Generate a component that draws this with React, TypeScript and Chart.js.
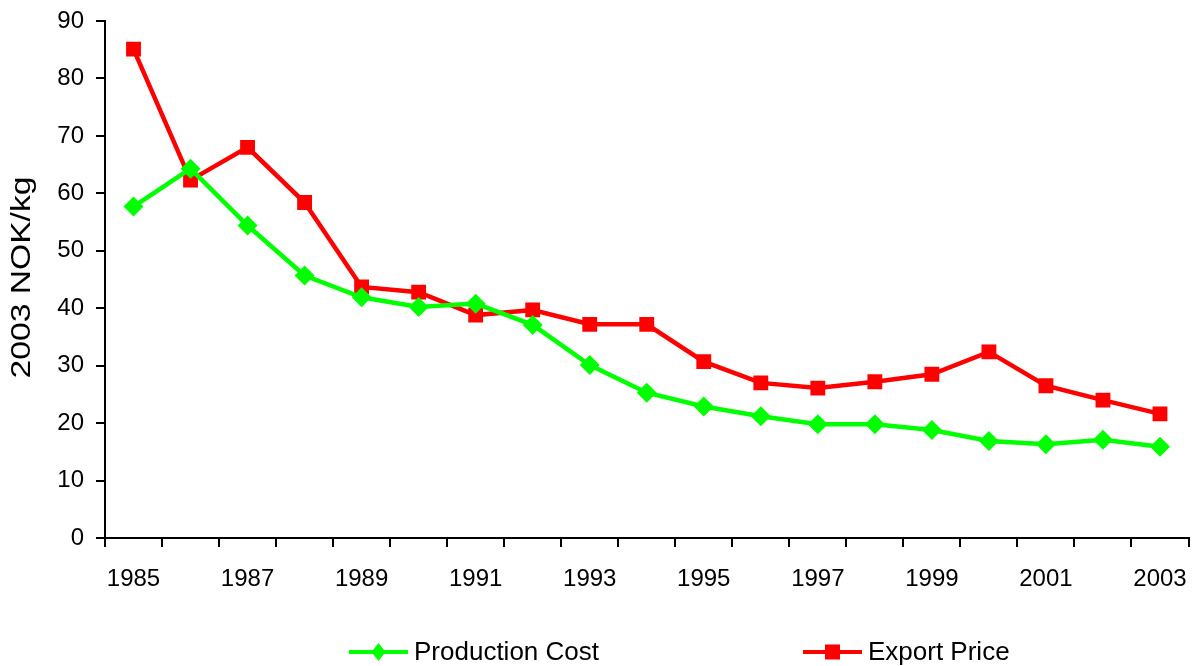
import React, { useEffect, useRef } from "react";
import { Chart, registerables } from "chart.js";

Chart.register(...registerables);

const years = [
  "1985", "1986", "1987", "1988", "1989", "1990", "1991", "1992", "1993", "1994",
  "1995", "1996", "1997", "1998", "1999", "2000", "2001", "2002", "2003",
];

const productionCost = [
  57.7, 64.3, 54.4, 45.7, 41.9, 40.2, 40.8, 37.1, 30.1, 25.3,
  22.9, 21.2, 19.8, 19.8, 18.8, 16.9, 16.3, 17.1, 15.9,
];

const exportPrice = [
  85.1, 62.3, 68.0, 58.4, 43.7, 42.8, 38.8, 39.7, 37.2, 37.2,
  30.7, 27.0, 26.1, 27.2, 28.5, 32.4, 26.5, 24.0, 21.6,
];

const yTicks = [0, 10, 20, 30, 40, 50, 60, 70, 80, 90];

const yTitle = "2003 NOK/kg";
const seriesNames = ["Production Cost", "Export Price"];

const FONT = "'Liberation Sans', Arial, Helvetica, sans-serif";
const GREEN = "#00ff00";
const RED = "#ff0000";

// Rotated axis title, drawn by hand so it can be stretched along its length
const yTitlePlugin = {
  id: "yTitleStretched",
  afterDraw(chart: any) {
    const { ctx, chartArea } = chart;
    ctx.save();
    ctx.font = `28px ${FONT}`;
    ctx.fillStyle = "#000";
    ctx.textAlign = "center";
    ctx.textBaseline = "middle";
    const w = ctx.measureText(yTitle).width;
    ctx.translate(22, (chartArea.top + chartArea.bottom) / 2 - 2);
    ctx.rotate(-Math.PI / 2);
    ctx.scale(202 / w, 1);
    ctx.fillText(yTitle, 0, 0);
    ctx.restore();
  },
};

// Legend below the axis: line sample with marker, then the series name
const legendPlugin = {
  id: "lineMarkerLegend",
  afterDraw(chart: any) {
    const { ctx } = chart;
    const y = 652;
    const items = [
      { name: seriesNames[0], color: GREEN, x: 349, marker: "diamond" },
      { name: seriesNames[1], color: RED, x: 803, marker: "square" },
    ];
    ctx.save();
    for (const it of items) {
      ctx.strokeStyle = it.color;
      ctx.lineWidth = 4;
      ctx.beginPath();
      ctx.moveTo(it.x, y);
      ctx.lineTo(it.x + 59, y);
      ctx.stroke();
      ctx.fillStyle = it.color;
      const cx = it.x + 29.5;
      ctx.beginPath();
      if (it.marker === "diamond") {
        ctx.moveTo(cx, y - 9);
        ctx.lineTo(cx + 7, y);
        ctx.lineTo(cx, y + 9);
        ctx.lineTo(cx - 7, y);
        ctx.closePath();
      } else {
        ctx.rect(cx - 7.5, y - 7.5, 15, 15);
      }
      ctx.fill();
      ctx.fillStyle = "#000";
      ctx.font = `26px ${FONT}`;
      ctx.textAlign = "left";
      ctx.textBaseline = "middle";
      ctx.fillText(it.name, it.x + 65, y + 1);
    }
    ctx.restore();
  },
};

export default function App() {
  const canvasRef = useRef<HTMLCanvasElement | null>(null);

  useEffect(() => {
    document.body.style.margin = "0";
    const canvas = canvasRef.current;
    if (!canvas) return;
    const chart = new Chart(canvas, {
      type: "line",
      data: {
        labels: years,
        datasets: [
          {
            label: seriesNames[0],
            data: productionCost,
            borderColor: GREEN,
            backgroundColor: GREEN,
            borderWidth: 4.5,
            pointStyle: "rectRot",
            pointRadius: 10,
            pointBorderWidth: 0,
            tension: 0,
          },
          {
            label: seriesNames[1],
            data: exportPrice,
            borderColor: RED,
            backgroundColor: RED,
            borderWidth: 4.5,
            pointStyle: "rect",
            pointRadius: 10.5,
            pointBorderWidth: 0,
            tension: 0,
          },
        ],
      },
      options: {
        responsive: false,
        animation: false,
        events: [],
        layout: { padding: { top: 21, right: 7, left: 0, bottom: 0 } },
        plugins: {
          legend: { display: false },
          tooltip: { enabled: false },
          title: { display: false },
        },
        scales: {
          x: {
            type: "category",
            offset: true,
            grid: {
              offset: true,
              drawOnChartArea: false,
              drawTicks: true,
              tickLength: 9,
              color: "#000",
              lineWidth: 2,
            },
            border: { display: true, color: "#000", width: 2 },
            ticks: {
              autoSkip: false,
              maxRotation: 0,
              minRotation: 0,
              padding: 18,
              color: "#000",
              font: { family: FONT, size: 24 },
              callback: (_v: any, i: number) => (i % 2 === 0 ? years[i] : ""),
            },
            afterFit: (s: any) => {
              s.height = 128;
              s.paddingLeft = 0;
              s.paddingRight = 0;
            },
          },
          y: {
            min: yTicks[0],
            max: yTicks[yTicks.length - 1],
            grid: {
              drawOnChartArea: false,
              drawTicks: true,
              tickLength: 9,
              color: "#000",
              lineWidth: 2,
            },
            border: { display: true, color: "#000", width: 2 },
            afterBuildTicks: (s: any) => {
              s.ticks = yTicks.map((v) => ({ value: v }));
            },
            ticks: {
              padding: 12,
              color: "#000",
              font: { family: FONT, size: 24 },
            },
            afterFit: (s: any) => {
              s.width = 105;
              s.paddingTop = 0;
              s.paddingBottom = 0;
            },
          },
        },
      },
      plugins: [yTitlePlugin, legendPlugin],
    });
    return () => chart.destroy();
  }, []);

  return (
    <div style={{ width: 1199, height: 666, background: "#fff" }}>
      <canvas ref={canvasRef} width={1199} height={666} style={{ display: "block" }} />
    </div>
  );
}
